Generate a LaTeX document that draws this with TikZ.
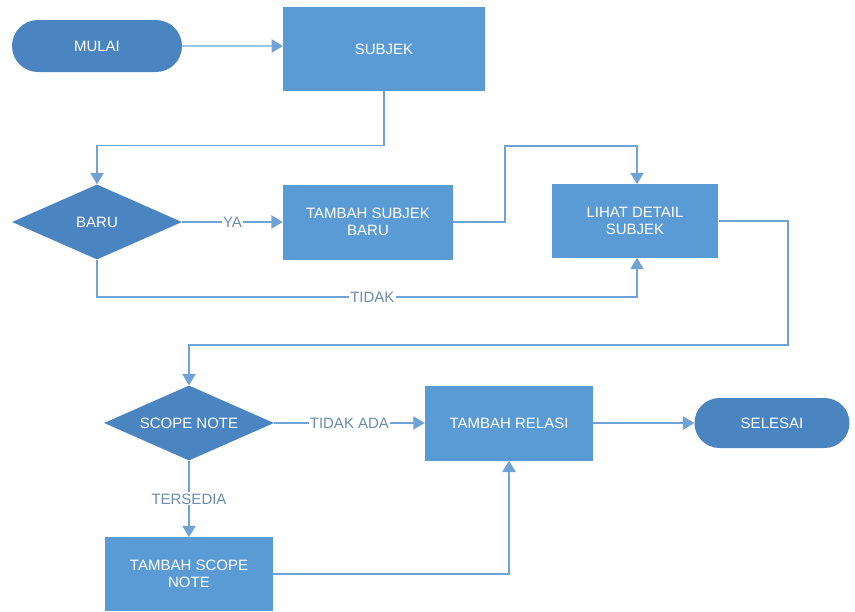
\documentclass[tikz,border=0pt]{standalone}
\usepackage{fontspec}
\setmainfont{Liberation Sans}
\usetikzlibrary{shapes.geometric,shapes.misc,arrows.meta}

\definecolor{boxblue}{HTML}{5B9BD5}
\definecolor{termblue}{HTML}{4A85C2}
\definecolor{lineblue}{HTML}{6FA3D6}
\definecolor{labelgrey}{HTML}{6A8CB0}

\tikzset{
    process/.style={rectangle, fill=boxblue, text=white, align=center, inner sep=0pt},
    terminal/.style={rounded rectangle, fill=termblue, text=white, inner sep=0pt},
    decision/.style={diamond, fill=termblue, text=white, inner sep=0pt, shape aspect=2.27, minimum width=5.1cm, minimum height=2.25cm},
    flow/.style={draw=lineblue, line width=1pt, -{Triangle[length=3.4mm,width=4mm]}},
    lbl/.style={fill=white, text=labelgrey, inner sep=1pt}
}

\begin{document}
\begin{tikzpicture}[x=0.03cm, y=-0.03cm, font=\fontsize{12.8}{15}\selectfont]
        \useasboundingbox (0,0) rectangle (855,612);

        % top row
        \node[terminal, minimum width=5.1cm, minimum height=1.56cm] (mulai) at (97,46) {MULAI};
        \node[process, minimum width=6.05cm, minimum height=2.5cm] (subjek) at (384,49) {SUBJEK};

        % middle row
        \node[decision] (baru) at (97,222) {\makebox[0pt]{BARU}};
        \node[process, minimum width=5.1cm, minimum height=2.25cm] (tambahsubjek) at (368,222) {TAMBAH SUBJEK\\BARU};
        \node[process, minimum width=5.0cm, minimum height=2.2cm] (lihat) at (635,221) {LIHAT DETAIL\\SUBJEK};

        % bottom rows
        \node[decision] (scope) at (189,423) {\makebox[0pt]{SCOPE NOTE}};
        \node[process, minimum width=5.05cm, minimum height=2.25cm] (relasi) at (509,423) {TAMBAH RELASI};
        \node[terminal, minimum width=4.65cm, minimum height=1.5cm] (selesai) at (772,423) {SELESAI};
        \node[process, minimum width=5.05cm, minimum height=2.2cm] (tambahscope) at (189,574) {TAMBAH SCOPE\\NOTE};

        % connectors
        \draw[flow] (mulai) -- (mulai -| subjek.west);
        \draw[flow] (subjek.south) -- ++(0,55) -| (baru.north);
        \draw[flow] (baru) -- node[lbl] {YA} (tambahsubjek);
        \draw[flow] (tambahsubjek.east) -- (505,222) |- (637,146) -- (lihat.north -| 637,0);
        \draw[flow] (baru.south) |- node[lbl, pos=0.755] {TIDAK} (637,297) -- (lihat.south -| 637,0);
        \draw[flow] (lihat.east) -- (788,221) |- (189,345) -- (scope.north);
        \draw[flow] (scope) -- node[lbl] {TIDAK ADA} (relasi);
        \draw[flow] (relasi) -- (selesai);
        \draw[flow] (scope.south) -- node[lbl] {TERSEDIA} (tambahscope.north);
        \draw[flow] (tambahscope.east) -| (relasi.south);
\end{tikzpicture}
\end{document}
